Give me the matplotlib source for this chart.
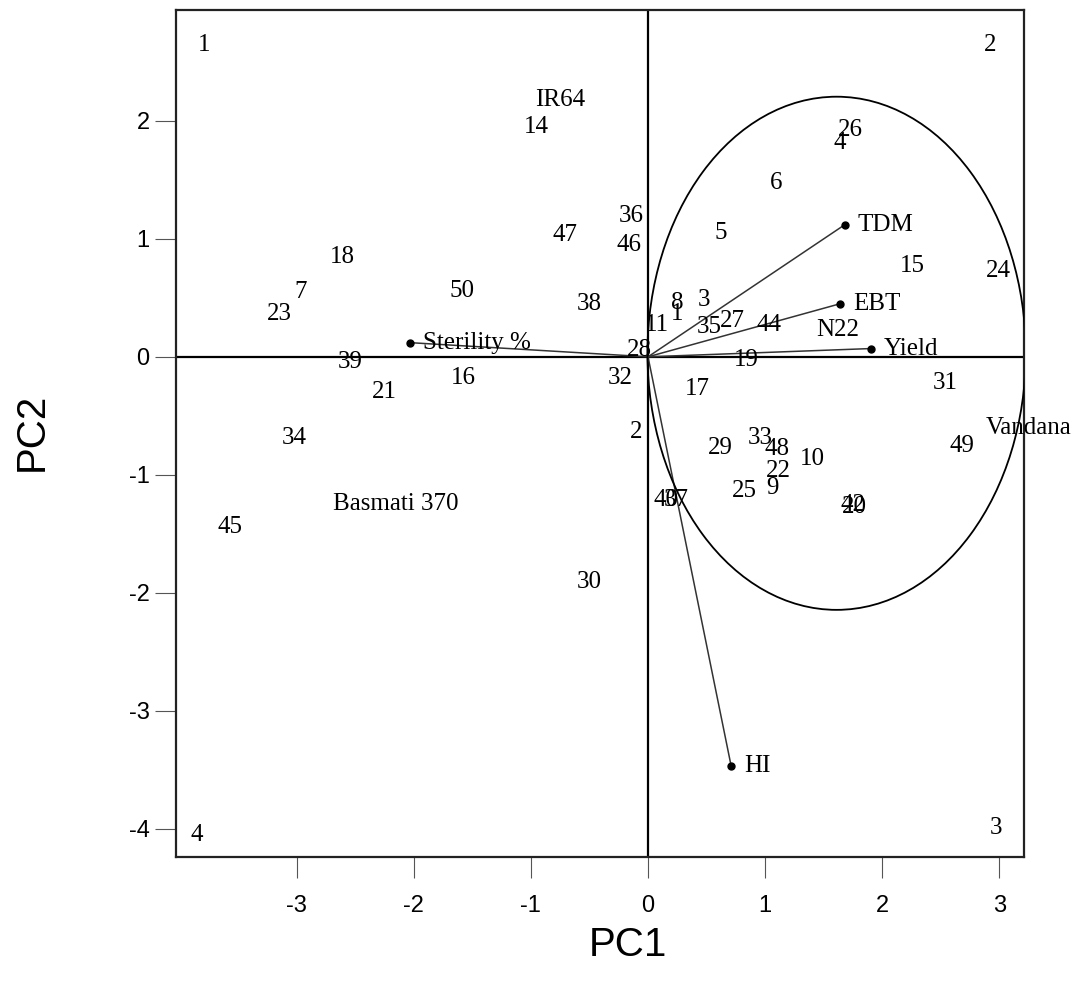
import matplotlib
matplotlib.use("Agg")
import matplotlib.pyplot as plt
from matplotlib.patches import Ellipse

# ---- data ----
geno_labels = ["14", "26", "4", "6", "36", "46", "47", "5", "18", "7", "23", "50",
               "38", "15", "24", "8", "1", "3", "11", "35", "27", "44", "28", "32",
               "19", "17", "39", "21", "16", "31", "34", "49", "2", "29", "33", "48",
               "10", "22", "9", "25", "42", "20", "40", "37", "45", "30"]
geno_x = [-0.95, 1.73, 1.64, 1.09, -0.14, -0.16, -0.71, 0.62, -2.61, -2.97, -3.15, -1.59,
          -0.50, 2.26, 2.99, 0.25, 0.25, 0.48, 0.08, 0.52, 0.72, 1.03, -0.07, -0.24,
          0.84, 0.42, -2.54, -2.25, -1.58, 2.54, -3.02, 2.68, -0.10, 0.62, 0.96, 1.10,
          1.40, 1.11, 1.06, 0.82, 1.75, 1.76, 0.15, 0.24, -3.57, -0.50]
geno_y = [1.95, 1.92, 1.81, 1.47, 1.19, 0.95, 1.03, 1.05, 0.85, 0.55, 0.36, 0.56,
          0.45, 0.77, 0.73, 0.46, 0.36, 0.48, 0.27, 0.25, 0.30, 0.27, 0.06, -0.18,
          -0.03, -0.27, -0.04, -0.30, -0.18, -0.22, -0.69, -0.76, -0.64, -0.77, -0.69, -0.78,
          -0.87, -0.97, -1.11, -1.14, -1.26, -1.27, -1.21, -1.21, -1.44, -1.91]

check_names = ["IR64", "N22", "Vandana", "Basmati 370"]
check_x = [-0.75, 1.62, 3.25, -2.15]
check_y = [2.18, 0.23, -0.60, -1.25]

trait_names = ["TDM", "EBT", "Yield", "Sterility %", "HI"]
trait_x = [1.68, 1.64, 1.90, -2.03, 0.71]
trait_y = [1.12, 0.45, 0.07, 0.12, -3.47]

quad_labels = ["1", "2", "3", "4"]
quad_x = [-3.79, 2.92, 2.97, -3.85]
quad_y = [2.64, 2.64, -3.99, -4.05]

ellipse_center = (1.61, 0.03)
ellipse_w, ellipse_h = 3.23, 4.35

x_ticks = [-3, -2, -1, 0, 1, 2, 3]
y_ticks = [-4, -3, -2, -1, 0, 1, 2]

# ---- figure ----
W, H = 1083, 994
fig = plt.figure(figsize=(W / 100, H / 100), dpi=100)
ax = fig.add_axes([176 / W, 1 - 857 / H, (1024 - 176) / W, (857 - 10) / H])
ax.set_xlim(-4.03, 3.21)
ax.set_ylim(-4.24, 2.94)

serif = "Liberation Serif"
sans = "Liberation Sans"
fs = 18

ax.axhline(0, color="black", lw=1.6, zorder=2)
ax.axvline(0, color="black", lw=1.6, zorder=2)

# trait vectors
for n, tx, ty in zip(trait_names, trait_x, trait_y):
    ax.plot([0, tx], [0, ty], color="#333333", lw=1.1, zorder=3)
    ax.plot([tx], [ty], "o", color="black", ms=5, zorder=4)
    ax.text(tx + 0.11, ty, n, family=serif, fontsize=fs, va="center", ha="left", zorder=5)

# genotypes
for n, gx, gy in zip(geno_labels, geno_x, geno_y):
    ax.text(gx, gy, n, family=serif, fontsize=fs, ha="center", va="center", zorder=5)

for n, cx, cy in zip(check_names, check_x, check_y):
    ax.text(cx, cy, n, family=serif, fontsize=fs, ha="center", va="center", zorder=5,
            clip_on=False)

for n, qx, qy in zip(quad_labels, quad_x, quad_y):
    ax.text(qx, qy, n, family=serif, fontsize=fs, ha="center", va="center", zorder=5)

ell = Ellipse(ellipse_center, ellipse_w, ellipse_h, fill=False, edgecolor="black",
              lw=1.3, zorder=3)
ax.add_patch(ell)

ax.set_xticks(x_ticks)
ax.set_yticks(y_ticks)
ax.set_xticklabels([str(v) for v in x_ticks], family=sans, fontsize=17)
ax.set_yticklabels([str(v) for v in y_ticks], family=sans, fontsize=17)
ax.tick_params(axis="both", direction="out", length=15, width=0.8, color="#555555")
ax.tick_params(axis="x", pad=12)
ax.tick_params(axis="y", pad=4)

for s in ax.spines.values():
    s.set_linewidth(1.6)
    s.set_color("#222222")

fig.text(628 / W, 1 - 945 / H, "PC1", family=sans, fontsize=29, ha="center", va="center")
fig.text(32 / W, 1 - 432 / H, "PC2", family=sans, fontsize=29, ha="center", va="center",
         rotation=90)

fig.savefig("out.png", dpi=100, facecolor="white")
